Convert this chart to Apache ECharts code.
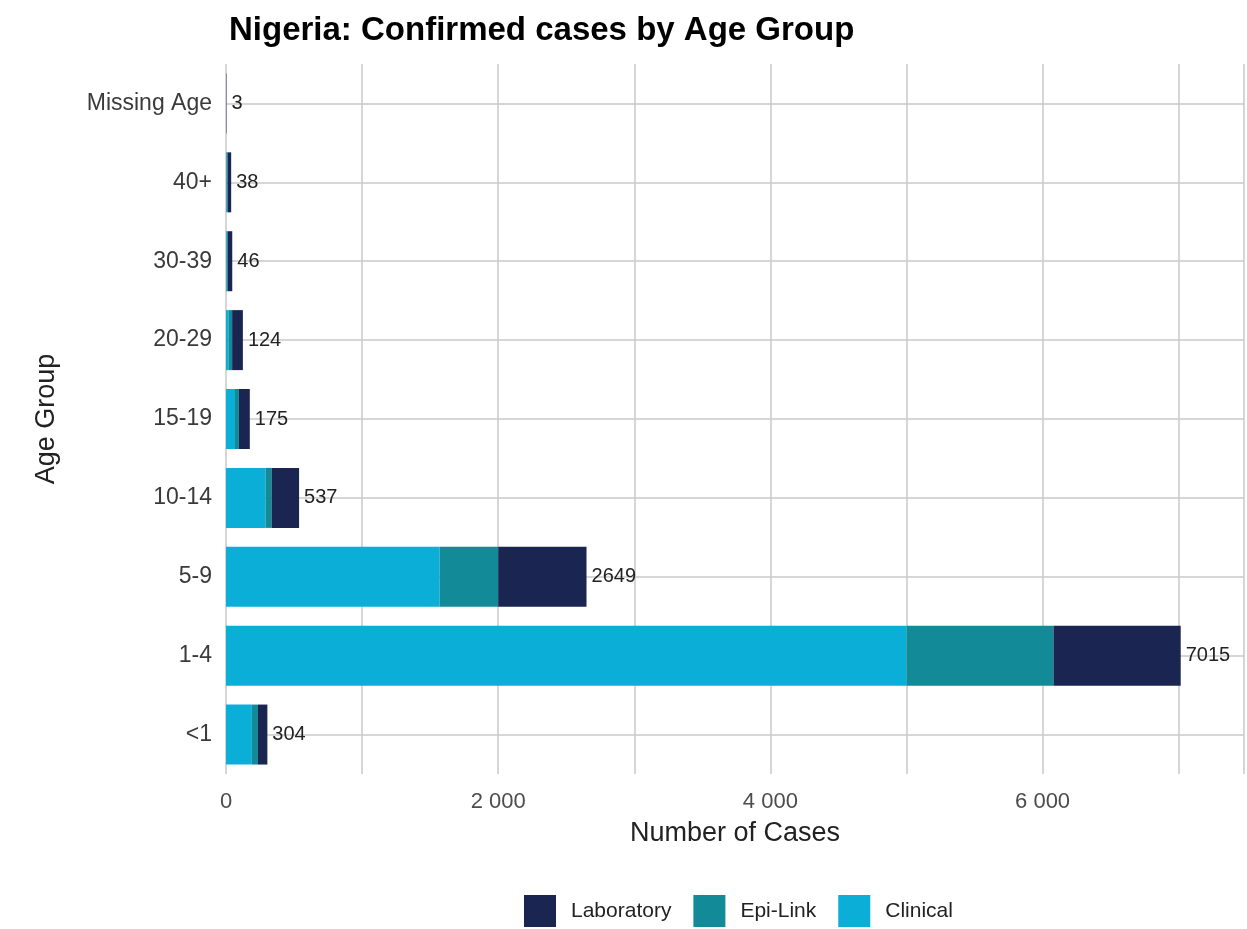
<!DOCTYPE html>
<html>
<head>
<meta charset="utf-8">
<script src="https://cdn.jsdelivr.net/npm/echarts@6/dist/echarts.min.js"></script>
<style>html,body{margin:0;padding:0;background:#fff}#c{width:1247px;height:929px}</style>
</head>
<body>
<div id="c"></div>
<script>
const categories = ['<1', '1-4', '5-9', '10-14', '15-19', '20-29', '30-39', '40+', 'Missing Age'];
const clinical   = [190, 5000, 1570, 290, 66, 20, 5, 4, 0];
const epiLink    = [45, 1080, 430, 45, 29, 25, 8, 8, 0];
const laboratory = [69, 935, 649, 202, 80, 79, 33, 26, 3];
const totals     = [304, 7015, 2649, 537, 175, 124, 46, 38, 3];
const xTicks     = [0, 2000, 4000, 6000];

const fmt = v => String(v).replace(/\B(?=(\d{3})+(?!\d))/g, ' ');
const chart = echarts.init(document.getElementById('c'));
const font = '"Liberation Sans", Arial, sans-serif';
chart.setOption({
  animation: false,
  textStyle: { fontFamily: font },
  title: {
    text: 'Nigeria: Confirmed cases by Age Group',
    left: 224, top: 9,
    textStyle: { fontFamily: font, fontWeight: 'bold', fontSize: 33, color: '#000' }
  },
  grid: { left: 226, right: 2, top: 64, bottom: 155, containLabel: false },
  legend: {
    bottom: -3, left: 519,
    itemWidth: 32, itemHeight: 32, itemGap: 22,
    icon: 'rect',
    data: ['Laboratory', 'Epi-Link', 'Clinical'],
    textStyle: { fontSize: 21, color: '#222', padding: [0, 0, 0, 10] }
  },
  xAxis: {
    type: 'value', min: 0, max: 7480, interval: 1000,
    name: 'Number of Cases', nameLocation: 'middle', nameGap: 46,
    nameTextStyle: { fontSize: 27, color: '#222' },
    axisLine: { show: false },
    axisTick: { show: false },
    axisLabel: { fontSize: 22, color: '#4d4d4d', margin: 17,
      formatter: v => xTicks.includes(v) ? fmt(v) : '' },
    splitLine: { show: true, lineStyle: { color: '#c8c8c8', width: 1.5 } }
  },
  yAxis: {
    type: 'category', data: categories,
    name: 'Age Group', nameLocation: 'middle', nameGap: 166,
    nameTextStyle: { fontSize: 27, color: '#222' },
    axisLine: { show: false },
    axisTick: { show: false },
    axisLabel: { fontSize: 23, color: '#3a3a3a', margin: 14 },
    splitLine: { show: false }
  },
  series: [
    {
      name: 'Clinical', type: 'bar', stack: 'a', barWidth: 60, z: 3,
      itemStyle: { color: '#0aaed6' }, data: clinical,
      markLine: {
        silent: true, symbol: 'none', z: 1,
        label: { show: false },
        lineStyle: { color: '#c8c8c8', width: 1.5, type: 'solid' },
        data: categories.map(c => ({ yAxis: c }))
      }
    },
    { name: 'Epi-Link', type: 'bar', stack: 'a', barWidth: 60, z: 3,
      itemStyle: { color: '#128a98' }, data: epiLink },
    { name: 'Laboratory', type: 'bar', stack: 'a', barWidth: 60, z: 3,
      itemStyle: { color: '#1b2552' }, data: laboratory,
      label: { show: true, position: 'right', distance: 5, fontSize: 20, color: '#222',
        formatter: p => String(totals[p.dataIndex]) } }
  ]
});
</script>
</body>
</html>
